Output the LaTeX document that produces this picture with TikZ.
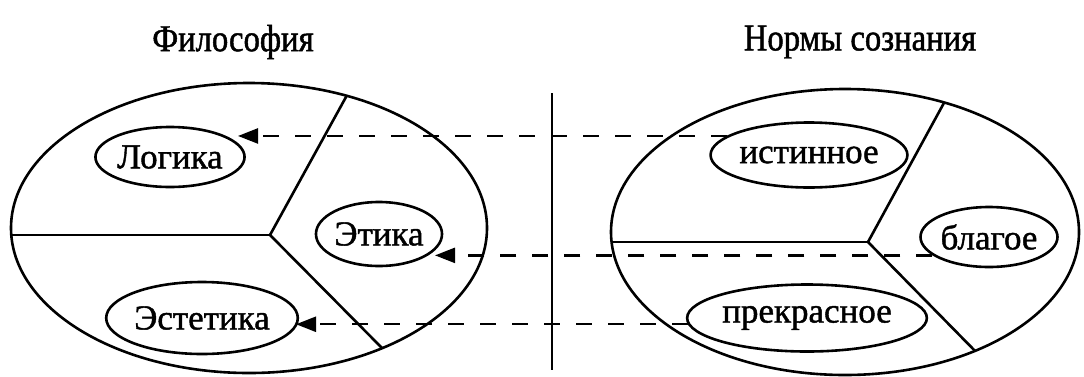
\documentclass[tikz,border=0pt]{standalone}
\usepackage{fontspec}
\setmainfont{Liberation Serif}
\newfontfamily\lblfont[FakeBold=1.2]{Liberation Serif}
\newfontfamily\titlefont[FakeStretch=0.86,FakeBold=1.2]{Liberation Serif}
\usetikzlibrary{shapes.geometric,arrows.meta,calc}
\begin{document}
\begin{tikzpicture}[x=1pt,y=-1pt,line width=2.6pt,
  big/.style={draw,ellipse,inner sep=0pt},
  lbl/.style={draw,ellipse,inner sep=0pt,font=\lblfont\fontsize{35}{38}\selectfont},
  conn/.style={line width=2.4pt,dash pattern=on 16pt off 16pt,-{Triangle[length=20pt,width=15pt]}},
  ttl/.style={font=\titlefont\fontsize{38}{42}\selectfont,inner sep=0pt},
  divline/.style={line width=2.6pt}]
\useasboundingbox (0,0) rectangle (1084,376);

% titles
\node[ttl] (t1) at (233,42) {Философия};
\node[ttl] (t2) at (860,42) {Нормы сознания};

% big ellipses
\node[big,minimum width=476pt,minimum height=290pt] (LE) at (249,228) {};
\node[big,minimum width=468pt,minimum height=286pt] (RE) at (845,232) {};

% dividing lines
\coordinate (LC) at (270,235);
\coordinate (RC) at (868,242);
\begin{scope}
  \clip (249,228) ellipse [x radius=238, y radius=145];
  \draw[divline] (LC) -- (-20,235);
  \draw[divline] (LC) -- ($(LC)!1.2!(346,97)$);
  \draw[divline] (LC) -- ($(LC)!1.2!(382,348)$);
\end{scope}
\begin{scope}
  \clip (845,232) ellipse [x radius=234, y radius=143];
  \draw[divline] (RC) -- (580,242);
  \draw[divline] (RC) -- ($(RC)!1.2!(945,101)$);
  \draw[divline] (RC) -- ($(RC)!1.2!(981,357)$);
\end{scope}

% vertical separator
\coordinate (v1) at (552,93);
\coordinate (v2) at (552,370);
\draw (v1) -- (v2);

% labels
\node[lbl,minimum width=144pt,minimum height=60pt] (log) at (170,157) {Логика};
\node[lbl,minimum width=126pt,minimum height=64pt] (eth) at (379,234) {Этика};
\node[lbl,minimum width=182pt,minimum height=72pt] (est) at (202,318) {Эстетика};
\node[lbl,minimum width=186pt,minimum height=65pt] (ist) at (809,155) {истинное};
\node[lbl,minimum width=136pt,minimum height=60pt] (bla) at (989,237) {благое};
\node[lbl,minimum width=202pt,minimum height=67pt] (pre) at (807,318) {прекрасное};

% arrow targets
\coordinate (a1) at (238,0);
\coordinate (a2) at (435,0);
\coordinate (a3) at (296,0);

% connectors
\draw[conn] (ist.167) -- (ist.167 -| a1);
\draw[conn] (bla.198) -- (bla.198 -| a2);
\draw[conn] (pre.183) -- (pre.183 -| a3);
\end{tikzpicture}
\end{document}
